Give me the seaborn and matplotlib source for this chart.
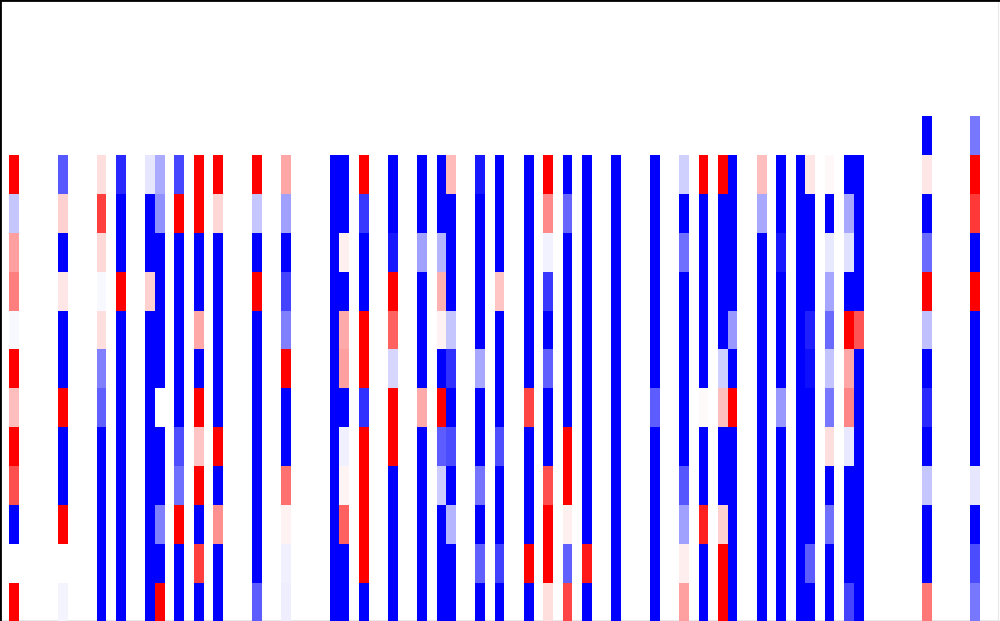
import matplotlib
matplotlib.use('Agg')
import matplotlib.pyplot as plt
import seaborn as sns
import numpy as np
import pandas as pd

n_filas = 16
n_columnas = 103
fila_inicio = 4

# columnas con datos, el resto queda vacio
col_1 = [1, -.22, .37, .5, -.03, 1, .25, 1, .69, -1, 0, 1]
col_6 = [-.65, .18, -1, .1, -1, -1, 1, -1, -1, 1, 0, -.04]
col_10 = [.13, .75, .15, -.03, .13, -.5, -.62, -1, -1, -1, -1, -1]
col_12 = [-.84, -1, -1, 1, -1, -1, -1, -1, -1, -1, -1, -1]
col_15 = [-.1, -1, -1, .18, -1, -1, -1, -1, -1, -1, -1, -1]
col_16 = [-.33, -.43, -1, -1, -1, -1, 0, -1, -1, -.5, -1, 1]
col_18 = [-.72, 1, -1, -1, -1, -1, -1, -.69, -.56, 1, -1, -1]
col_20 = [1, 1, -1, -1, .34, -1, 1, .23, 1, -1, .75, -1]
col_22 = [1, .16, -1, -1, -1, -1, -1, 1, -1, .43, -1, -1]
col_26 = [1, -.22, -1, 1, -1, -1, -1, -1, -1, -1, -1, -.64]
col_29 = [.35, -.37, -1, -.73, -.5, 1, -1, -1, .56, .05, -.06, -.07]
col_34 = [-1] * 12
col_35 = [-1, -1, .06, -1, .33, .37, -1, -.06, .04, .62, -1, -1]
col_37 = [1, -.78, -1, -1, 1, 1, -.81, 1, 1, 1, 1, -1]
col_40 = [-1, -1, -.9, 1, .62, -.16, 1, 1, -1, -1, -1, -1]
col_43 = [-1, -1, -.37, -1, -1, -1, .33, -1, -1, -1, -1, -1]
col_45 = [-1, -1, -.29, .31, .05, -1, 1, -.64, -.2, -1, -1, -1]
col_46 = [.27, -1, -1, -1, -.22, -.81, -1, -.7, -1, -.29, -1, -1]
col_49 = [-.9, -1, -1, -1, -1, -.34, -1, -1, -.54, -1, -.62, -1]
col_51 = [-1, -1, -1, .23, -1, -1, -1, -.69, -1, -1, -.75, -1]
col_54 = [-1, -1, -1, -1, -1, -1, .73, -1, -1, -1, 1, -1]
col_56 = [1, .46, -.05, -.78, -1, -.62, -1, -1, .69, 1, 1, .13]
col_58 = [-1, -.6, -1, -1, -1, -1, -1, 1, 1, .06, -.62, .72]
col_60 = [-1, -1, -1, -1, -1, -1, -1, -1, -1, -1, .9, -1]
col_63 = [-1] * 12
col_67 = [-1, -1, -1, -1, -1, -1, -.64, -1, -1, -1, -1, -1]
col_70 = [-.18, -1, -.56, -1, -1, -1, -1, -1, -.66, -.37, .07, .37]
col_72 = [1, -1, -1, -1, -1, -1, .02, -1, -1, .87, -1, -1]
col_74 = [1, -1, -1, -1, -1, -.18, .25, -1, -1, .18, 1, 1]
col_75 = [-1, -1, -1, -1, -.4, -1, 1, -1, -1, -1, -1, -1]
col_78 = [.25, -.34, -1, -1, -1, -1, -1, -1, -1, -1, -1, -1]
col_80 = [-1, -1, -.9, -1, -1, -1, -.4, -1, -1, -1, -1, -1]
col_82 = [-1] * 12
col_83 = [.1, -1, -1, -1, -.87, -.94, -1, -1, -1, -1, -.64, -1]
col_85 = [.03, -1, -.09, -.35, -.58, -.23, -.53, .13, -1, -.56, -1, -1]
col_87 = [-1, -.34, -.12, -1, 1, .35, .47, -.09, -1, -1, -1, -.73]
col_88 = [-1, -1, -1, -1, .67, -1, -1, -1, -1, -1, -1, -1]
col_95 = [.1, -1, -.58, 1, -.25, -1, -.84, -1, -.22, -1, -1, .53]
col_100 = [1, .78, -1, 1, -1, -1, -1, -1, -.1, -1, -.7, -.53]

# estas dos empiezan una fila mas arriba
extra_95 = -1
extra_100 = -.53

columnas = {
    1: col_1, 6: col_6, 10: col_10, 12: col_12, 15: col_15, 16: col_16,
    18: col_18, 20: col_20, 22: col_22, 26: col_26, 29: col_29, 34: col_34,
    35: col_35, 37: col_37, 40: col_40, 43: col_43, 45: col_45, 46: col_46,
    49: col_49, 51: col_51, 54: col_54, 56: col_56, 58: col_58, 60: col_60,
    63: col_63, 67: col_67, 70: col_70, 72: col_72, 74: col_74, 75: col_75,
    78: col_78, 80: col_80, 82: col_82, 83: col_83, 85: col_85, 87: col_87,
    88: col_88, 95: col_95, 100: col_100,
}

matriz = np.zeros((n_filas, n_columnas))
for c, valores in columnas.items():
    matriz[fila_inicio:, c] = valores
matriz[fila_inicio - 1, 95] = extra_95
matriz[fila_inicio - 1, 100] = extra_100

df = pd.DataFrame(matriz)

fig = plt.figure(figsize=(10, 6.21), dpi=100)
# el mapa se sale un poco por abajo, como en el original
ax = fig.add_axes([-0.3 / 1000, -0.6 / 621, 0.9998, 622.0 / 621])
sns.heatmap(df, mask=df == 0, cmap='bwr', vmin=-1, vmax=1, cbar=False,
            xticklabels=False, yticklabels=False, ax=ax)
for lado in ['left', 'top']:
    ax.spines[lado].set_visible(True)
    ax.spines[lado].set_color('black')
    ax.spines[lado].set_linewidth(2)
# lineas muy claras que quedan detras de las celdas
ax.spines['right'].set_position(('axes', 0.9985))
ax.spines['bottom'].set_position(('axes', 0.0025))
for lado in ['right', 'bottom']:
    ax.spines[lado].set_visible(True)
    ax.spines[lado].set_color('#e8e8e8')
    ax.spines[lado].set_linewidth(0.8)
    ax.spines[lado].set_zorder(0)
plt.savefig('out.png', dpi=100)
plt.close()
